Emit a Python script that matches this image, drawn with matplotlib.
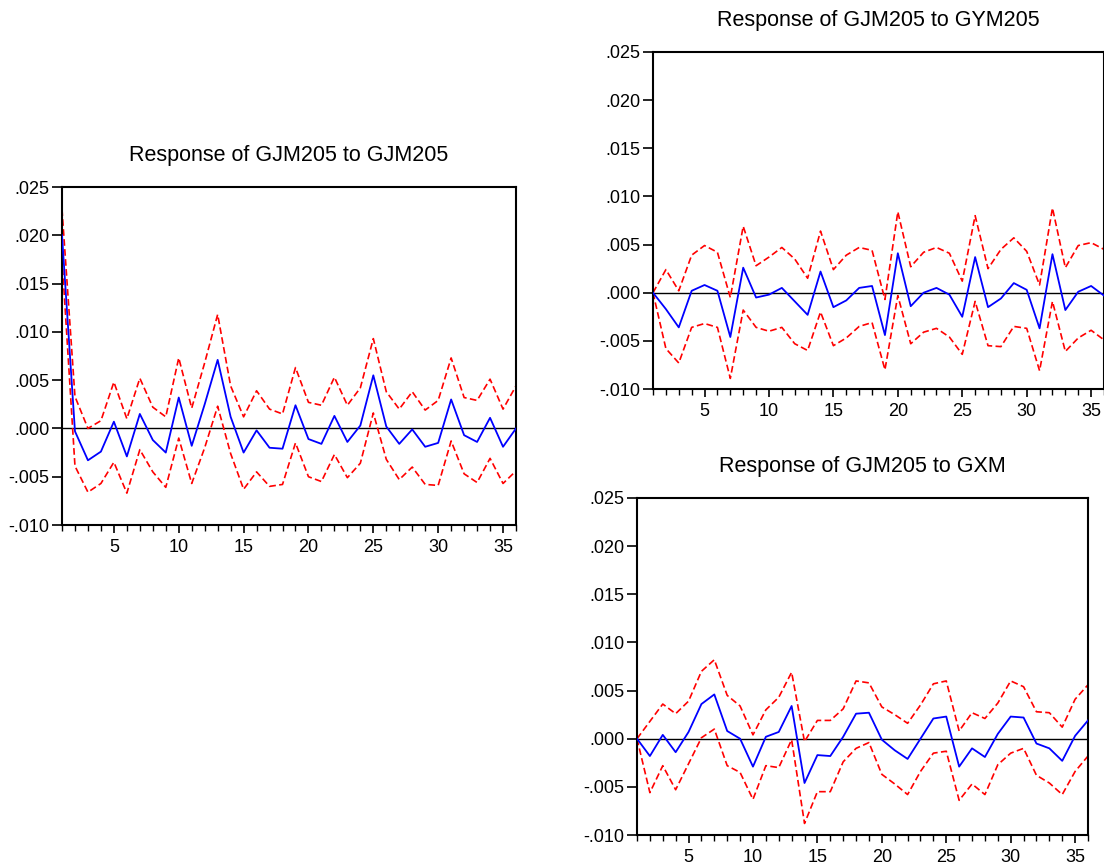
import numpy as np
import matplotlib
matplotlib.use("Agg")
import matplotlib.pyplot as plt
from matplotlib.ticker import FuncFormatter, MultipleLocator

plt.rcParams['font.family'] = ['Liberation Sans', 'DejaVu Sans']

periods = np.arange(1, 37)

# Response of GJM205 to GJM205
own_resp = [0.0200, -0.0003, -0.0033, -0.0024, 0.0007, -0.0029, 0.0015, -0.0012, -0.0025,
            0.0032, -0.0018, 0.0025, 0.0071, 0.0012, -0.0025, -0.0002, -0.0020, -0.0021,
            0.0024, -0.0011, -0.0016, 0.0013, -0.0014, 0.0003, 0.0055, 0.0002, -0.0016,
            -0.0001, -0.0019, -0.0015, 0.0030, -0.0007, -0.0014, 0.0011, -0.0019, 0.0000]
own_upper = [0.0227, 0.0033, 0.0000, 0.0008, 0.0048, 0.0010, 0.0052, 0.0022, 0.0012,
             0.0073, 0.0021, 0.0068, 0.0118, 0.0044, 0.0012, 0.0039, 0.0020, 0.0015,
             0.0063, 0.0027, 0.0024, 0.0053, 0.0024, 0.0042, 0.0093, 0.0038, 0.0020,
             0.0038, 0.0019, 0.0029, 0.0073, 0.0032, 0.0029, 0.0051, 0.0020, 0.0044]
own_lower = [0.0176, -0.0039, -0.0066, -0.0057, -0.0035, -0.0067, -0.0022, -0.0045, -0.0061,
             -0.0010, -0.0057, -0.0020, 0.0023, -0.0026, -0.0063, -0.0045, -0.0060, -0.0058,
             -0.0015, -0.0050, -0.0055, -0.0027, -0.0051, -0.0036, 0.0016, -0.0032, -0.0053,
             -0.0040, -0.0058, -0.0059, -0.0013, -0.0047, -0.0056, -0.0031, -0.0057, -0.0044]

# Response of GJM205 to GYM205
gym_resp = [0.0000, -0.0017, -0.0036, 0.0002, 0.0008, 0.0002, -0.0046, 0.0026, -0.0005,
            -0.0002, 0.0005, -0.0009, -0.0023, 0.0022, -0.0015, -0.0008, 0.0005, 0.0007,
            -0.0044, 0.0041, -0.0014, 0.0000, 0.0005, -0.0002, -0.0025, 0.0037, -0.0015,
            -0.0006, 0.0010, 0.0003, -0.0037, 0.0040, -0.0018, 0.0001, 0.0007, -0.0003]
gym_upper = [0.0000, 0.0024, 0.0002, 0.0039, 0.0049, 0.0042, -0.0005, 0.0069, 0.0028,
             0.0037, 0.0047, 0.0035, 0.0015, 0.0064, 0.0024, 0.0039, 0.0047, 0.0044,
             -0.0007, 0.0084, 0.0027, 0.0042, 0.0047, 0.0041, 0.0012, 0.0080, 0.0025,
             0.0045, 0.0057, 0.0043, 0.0008, 0.0088, 0.0026, 0.0049, 0.0052, 0.0045]
gym_lower = [0.0000, -0.0058, -0.0073, -0.0036, -0.0032, -0.0036, -0.0089, -0.0018, -0.0036,
             -0.0040, -0.0036, -0.0053, -0.0060, -0.0020, -0.0055, -0.0047, -0.0035, -0.0031,
             -0.0080, -0.0003, -0.0053, -0.0041, -0.0037, -0.0046, -0.0064, -0.0009, -0.0055,
             -0.0056, -0.0035, -0.0037, -0.0081, -0.0009, -0.0061, -0.0047, -0.0039, -0.0049]

# Response of GJM205 to GXM
gxm_resp = [0.0000, -0.0018, 0.0004, -0.0014, 0.0007, 0.0036, 0.0046, 0.0008, 0.0000,
            -0.0029, 0.0002, 0.0007, 0.0034, -0.0046, -0.0017, -0.0018, 0.0002, 0.0026,
            0.0027, -0.0001, -0.0012, -0.0021, 0.0000, 0.0021, 0.0023, -0.0029, -0.0010,
            -0.0019, 0.0005, 0.0023, 0.0022, -0.0005, -0.0010, -0.0023, 0.0003, 0.0019]
gxm_upper = [0.0000, 0.0018, 0.0036, 0.0026, 0.0039, 0.0070, 0.0082, 0.0045, 0.0034,
             0.0004, 0.0030, 0.0043, 0.0069, -0.0003, 0.0019, 0.0019, 0.0031, 0.0060,
             0.0058, 0.0033, 0.0025, 0.0016, 0.0035, 0.0057, 0.0060, 0.0008, 0.0027,
             0.0021, 0.0037, 0.0060, 0.0054, 0.0028, 0.0027, 0.0012, 0.0041, 0.0056]
gxm_lower = [0.0000, -0.0056, -0.0028, -0.0053, -0.0026, 0.0001, 0.0010, -0.0028, -0.0035,
             -0.0063, -0.0028, -0.0030, -0.0001, -0.0088, -0.0055, -0.0055, -0.0024, -0.0010,
             -0.0004, -0.0037, -0.0047, -0.0058, -0.0034, -0.0015, -0.0013, -0.0064, -0.0047,
             -0.0058, -0.0027, -0.0015, -0.0010, -0.0038, -0.0046, -0.0058, -0.0034, -0.0018]

W, H = 1104, 865


def px_rect(x0, y0, x1, y1):
    # pixel box (top-left origin) -> figure fraction rect
    return [x0 / W, (H - y1) / H, (x1 - x0) / W, (y1 - y0) / H]


def fmt_val(v, pos):
    s = f"{v:.3f}"
    return s.replace("0.", ".", 1)


def draw_panel(fig, rect, title, resp, upper, lower):
    ax = fig.add_axes(rect)
    ax.axhline(0, color='black', lw=1.0, zorder=1)
    ax.plot(periods, upper, color='#ff0000', lw=1.2, dashes=(4, 2), zorder=2)
    ax.plot(periods, lower, color='#ff0000', lw=1.2, dashes=(4, 2), zorder=2)
    ax.plot(periods, resp, color='#0000ff', lw=1.3, zorder=3)
    ax.set_xlim(1, 36)
    ax.set_ylim(-0.010, 0.025)
    ax.xaxis.set_major_locator(MultipleLocator(5))
    ax.xaxis.set_minor_locator(MultipleLocator(1))
    ax.yaxis.set_major_locator(MultipleLocator(0.005))
    ax.yaxis.set_major_formatter(FuncFormatter(fmt_val))
    ax.tick_params(axis='both', which='major', labelsize=13, width=1.2, color='black')
    ax.tick_params(axis='y', length=7, pad=2)
    ax.tick_params(axis='x', length=6, pad=4)
    ax.tick_params(axis='x', which='minor', length=4, width=1.0)
    for sp in ax.spines.values():
        sp.set_linewidth(1.5)
    ax.set_title(title, fontsize=15.5, pad=19)
    return ax


fig = plt.figure(figsize=(W / 100, H / 100), dpi=100)
draw_panel(fig, px_rect(62, 187, 516, 525), "Response of GJM205 to GJM205",
           own_resp, own_upper, own_lower)
draw_panel(fig, px_rect(653, 52, 1104, 389), "Response of GJM205 to GYM205",
           gym_resp, gym_upper, gym_lower)
draw_panel(fig, px_rect(637, 498, 1088, 835), "Response of GJM205 to GXM",
           gxm_resp, gxm_upper, gxm_lower)

fig.savefig("out.png", dpi=100)
